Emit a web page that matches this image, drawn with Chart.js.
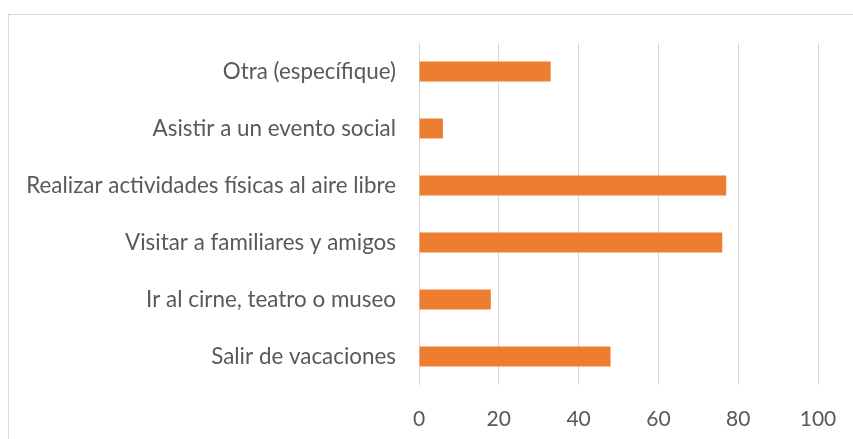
<!DOCTYPE html>
<html><head><meta charset="utf-8">
<script src="https://cdn.jsdelivr.net/npm/chart.js@4"></script>
<style>
html,body{margin:0;padding:0;background:#fff;}
#wrap{position:relative;width:853px;height:439px;}
#frame{position:absolute;left:8px;top:14px;width:860px;height:440px;border-left:1px solid #D9D9D9;border-top:1px solid #D9D9D9;box-sizing:border-box;pointer-events:none;}
canvas{position:absolute;left:0;top:0;}
</style></head>
<body><div id="wrap"><div id="frame"></div><canvas id="c" width="853" height="439"></canvas></div>
<script>
const categories = ["Otra (específique)","Asistir a un evento social","Realizar actividades físicas al aire libre","Visitar a familiares y amigos","Ir al cirne, teatro o museo","Salir de vacaciones"];
const values = [33, 6, 77, 76, 18, 48];
const xTicks = [0,20,40,60,80,100];
const yFont = {family:"Lato, 'Liberation Sans', Arial, sans-serif", size:22.4};
const xFont = {family:"Lato, 'Liberation Sans', Arial, sans-serif", size:21};
new Chart(document.getElementById('c'), {
  type:'bar',
  data:{labels:categories, datasets:[{data:values, backgroundColor:'#ED7D31', borderWidth:0, categoryPercentage:1, barPercentage:0.35}]},
  options:{
    indexAxis:'y', responsive:false, animation:false,
    layout:{padding:{top:43,right:35,left:0,bottom:0}},
    plugins:{legend:{display:false}, tooltip:{enabled:false}},
    scales:{
      x:{min:0,max:100,
        afterBuildTicks:(s)=>{s.ticks = xTicks.map(v=>({value:v}));},
        afterFit:(s)=>{s.height=54; s.paddingRight=0; s.paddingLeft=0;},
        grid:{color:'#D9D9D9', lineWidth:1, drawTicks:false},
        border:{display:false},
        ticks:{color:'#595959', font:xFont, padding:22}},
      y:{
        afterFit:(s)=>{s.width=419;},
        grid:{display:false},
        border:{display:false},
        ticks:{color:'#595959', font:yFont, padding:15}}
    }
  }
});
</script></body></html>
